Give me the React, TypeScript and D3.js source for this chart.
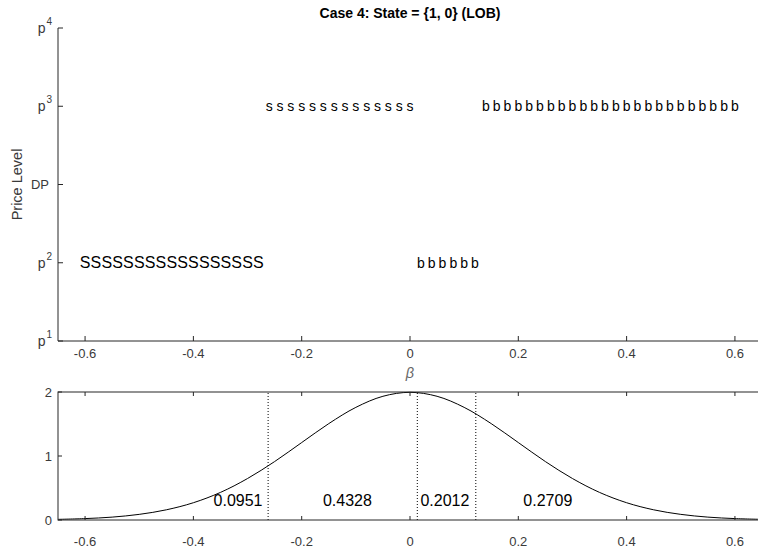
import React from 'react';
import * as d3 from 'd3';

// ---- data ----
const betaTicks = [-0.6, -0.4, -0.2, 0, 0.2, 0.4, 0.6];
const betaTickLabels = ['-0.6', '-0.4', '-0.2', '0', '0.2', '0.4', '0.6'];
const priceLevels = [1, 2, 3, 4, 5];
const priceBase = ['p', 'p', 'DP', 'p', 'p'];
const priceSup = ['1', '2', '', '3', '4'];
const densityTicks = [0, 1, 2];

const sellMarketBetas = [-0.6, -0.58, -0.56, -0.54, -0.52, -0.5, -0.48, -0.46, -0.44, -0.42, -0.4, -0.38, -0.36, -0.34, -0.32, -0.3, -0.28];
const sellLimitBetas = [-0.26, -0.24, -0.22, -0.2, -0.18, -0.16, -0.14, -0.12, -0.1, -0.08, -0.06, -0.04, -0.02, 0];
const buyLowBetas = [0.02, 0.04, 0.06, 0.08, 0.1, 0.12];
const buyHighBetas = [0.14, 0.16, 0.18, 0.2, 0.22, 0.24, 0.26, 0.28, 0.3, 0.32, 0.34, 0.36, 0.38, 0.4, 0.42, 0.44, 0.46, 0.48, 0.5, 0.52, 0.54, 0.56, 0.58, 0.6];

const densityX = [-0.65, -0.6, -0.55, -0.5, -0.45, -0.4, -0.35, -0.3, -0.25, -0.2, -0.15, -0.1, -0.05, 0, 0.05, 0.1, 0.15, 0.2, 0.25, 0.3, 0.35, 0.4, 0.45, 0.5, 0.55, 0.6, 0.65];
const densityY = [0.010, 0.022, 0.045, 0.088, 0.159, 0.270, 0.431, 0.648, 0.913, 1.210, 1.506, 1.760, 1.933, 1.995, 1.933, 1.760, 1.506, 1.210, 0.913, 0.648, 0.431, 0.270, 0.159, 0.088, 0.045, 0.022, 0.010];

const cutoffs = [-0.262, 0.0135, 0.1215];
const probLabels = ['0.0951', '0.4328', '0.2012', '0.2709'];
const probLabelX = [-0.3175, -0.1155, 0.0645, 0.2545];

const orderGroups = [
  { betas: sellMarketBetas, symbol: 'S', level: 2, size: 16 },
  { betas: sellLimitBetas, symbol: 's', level: 4, size: 14 },
  { betas: buyLowBetas, symbol: 'b', level: 2, size: 14 },
  { betas: buyHighBetas, symbol: 'b', level: 4, size: 14 },
];

const FONT = '"Liberation Sans", Arial, Helvetica, sans-serif';
const AX = '#262626';
const LBL = '#3a3a3a';

export default function App() {
  const W = 758, H = 548;
  const x = d3.scaleLinear().domain([-0.65, 0.65]).range([58, 762]);
  const yTop = d3.scaleLinear().domain([1, 5]).range([341, 28]);
  const yBot = d3.scaleLinear().domain([0, 2]).range([520, 392]);
  const tick = 5;

  const line = d3.line<number>()
    .x((_, i) => x(densityX[i]))
    .y((d) => yBot(d))
    .curve(d3.curveCatmullRom.alpha(0.5));

  const [x0, x1] = x.range();
  const [yb0, yb1] = yBot.range();

  return (
    <svg width={W} height={H} style={{ position: 'absolute', left: 0, top: 0, background: '#fff' }} fontFamily={FONT}>
      <rect width={W} height={H} fill="#fff" />
      <text x={x(0)} y={18} textAnchor="middle" fontWeight="bold" fontSize={14} fill="#000">
        Case 4: State = {'{'}1, 0{'}'} (LOB)
      </text>

      {/* ---- top axes ---- */}
      <g>
        <line x1={x0} x2={x1 + 2} y1={yTop(1)} y2={yTop(1)} stroke={AX} strokeWidth={1} />
        <line x1={x0} x2={x0} y1={yTop(1)} y2={yTop(5)} stroke={AX} strokeWidth={1} />
        {betaTicks.map((t, i) => (
          <g key={'tx' + i}>
            <line x1={x(t)} x2={x(t)} y1={yTop(1)} y2={yTop(1) - tick} stroke={AX} />
            <text x={x(t)} y={358} textAnchor="middle" fontSize={13} fill={LBL}>{betaTickLabels[i]}</text>
          </g>
        ))}
        {priceLevels.map((lv, i) => (
          <g key={'ty' + i}>
            <line x1={x0} x2={x0 + tick} y1={yTop(lv)} y2={yTop(lv)} stroke={AX} />
            {priceSup[i] ? (
              <text x={x0 - 6} y={yTop(lv) + 5} textAnchor="end" fontSize={14} fill={LBL}>
                {priceBase[i]}
                <tspan fontSize={10} dx={1} dy={-8}>{priceSup[i]}</tspan>
              </text>
            ) : (
              <text x={x0 - 9} y={yTop(lv) + 4.5} textAnchor="end" fontSize={13} fill={LBL}>{priceBase[i]}</text>
            )}
          </g>
        ))}
        <text transform={`translate(22,${(yTop(1) + yTop(5)) / 2}) rotate(-90)`} textAnchor="middle" fontSize={14.5} fill={LBL}>
          Price Level
        </text>
        <text x={x(0)} y={378} textAnchor="middle" fontSize={14.5} fontStyle="italic" fill="#666">β</text>

        {orderGroups.map((g, gi) =>
          g.betas.map((b, i) => (
            <text key={gi + '-' + i} x={x(b)} y={yTop(g.level) + (g.symbol === 'S' ? 5.7 : 4.8)}
              textAnchor="middle" fontSize={g.size} fill="#000">{g.symbol}</text>
          ))
        )}
      </g>

      {/* ---- bottom axes ---- */}
      <g>
        <path d={line(densityY) || ''} fill="none" stroke="#000" strokeWidth={1} />
        {cutoffs.map((c, i) => (
          <line key={'c' + i} x1={x(c)} x2={x(c)} y1={yb0} y2={yb1} stroke="#000" strokeWidth={1} strokeDasharray="1,2" />
        ))}
        {probLabels.map((p, i) => (
          <text key={'p' + i} x={x(probLabelX[i])} y={506} textAnchor="middle" fontSize={16} fill="#000">{p}</text>
        ))}
        <rect x={x0} y={yb1} width={x1 + 1 - x0} height={yb0 - yb1} fill="none" stroke={AX} strokeWidth={1} />
        {betaTicks.map((t, i) => (
          <g key={'bx' + i}>
            <line x1={x(t)} x2={x(t)} y1={yb0} y2={yb0 - 4} stroke={AX} />
            <line x1={x(t)} x2={x(t)} y1={yb1} y2={yb1 + 4} stroke={AX} />
            <text x={x(t)} y={546} textAnchor="middle" fontSize={13} fill={LBL}>{betaTickLabels[i]}</text>
          </g>
        ))}
        {densityTicks.map((t, i) => (
          <g key={'by' + i}>
            <line x1={x0} x2={x0 + 4} y1={yBot(t)} y2={yBot(t)} stroke={AX} />
            <line x1={x1 + 1} x2={x1 - 4} y1={yBot(t)} y2={yBot(t)} stroke={AX} />
            <text x={x0 - 6} y={yBot(t) + 4.5} textAnchor="end" fontSize={13} fill={LBL}>{String(t)}</text>
          </g>
        ))}
      </g>
    </svg>
  );
}
